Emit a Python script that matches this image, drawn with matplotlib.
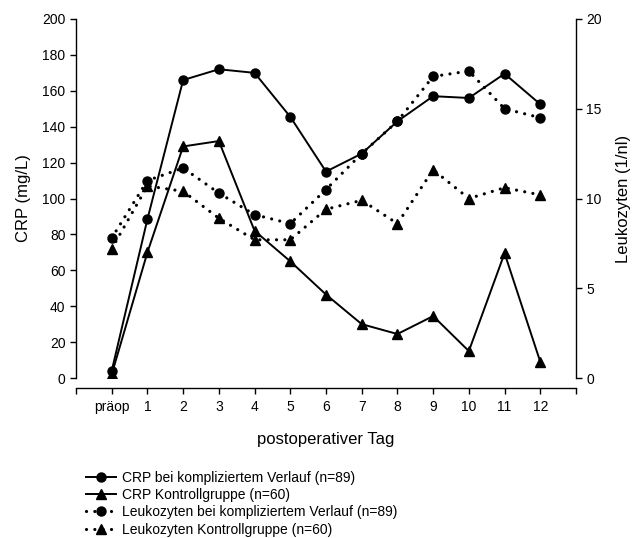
import matplotlib
matplotlib.use("Agg")
import matplotlib.pyplot as plt
from matplotlib.lines import Line2D

plt.rcParams['font.family'] = ['Liberation Sans', 'DejaVu Sans']

days = ["präop", "1", "2", "3", "4", "5", "6", "7", "8", "9", "10", "11", "12"]
crp_kompl = [4, 88.5, 166, 172, 170, 145.5, 115, 125, 143, 157, 156, 169.5, 152.5]
crp_kontrolle = [2, 70, 129, 132, 82, 65, 46.5, 30, 24.5, 34.5, 15, 69.5, 9]
leuko_kompl = [7.8, 11.0, 11.7, 10.3, 9.1, 8.6, 10.5, 12.5, 14.3, 16.8, 17.1, 15.0, 14.5]
leuko_kontrolle = [7.2, 10.7, 10.4, 8.9, 7.7, 7.7, 9.4, 9.9, 8.6, 11.6, 10.0, 10.6, 10.2]

labels = ["CRP bei kompliziertem Verlauf (n=89)",
          "CRP Kontrollgruppe (n=60)",
          "Leukozyten bei kompliziertem Verlauf (n=89)",
          "Leukozyten Kontrollgruppe (n=60)"]

fig = plt.figure(figsize=(6.37, 5.38), dpi=100)
ax = fig.add_axes([76/637, 1-378/538, 500/637, 359/538])
ax2 = ax.twinx()

x = list(range(len(days)))
lw = 1.4
ms = 6.5
dotted = (0, (0.01, 2.6))

l1, = ax.plot(x, crp_kompl, color='black', lw=lw, marker='o', ms=ms, zorder=3)
l2, = ax.plot(x, crp_kontrolle, color='black', lw=lw, marker='^', ms=ms, zorder=3)
l3, = ax2.plot(x, leuko_kompl, color='black', lw=2.3, ls=dotted, marker='o', ms=ms,
               dash_capstyle='round', zorder=3)
l4, = ax2.plot(x, leuko_kontrolle, color='black', lw=2.3, ls=dotted, marker='^', ms=ms,
               dash_capstyle='round', zorder=3)

ax.set_xlim(-1, 13)
ax.set_ylim(0, 200)
ax2.set_ylim(0, 20)
ax.set_yticks(range(0, 201, 20))
ax2.set_yticks(range(0, 21, 5))

ax.set_xticks(range(-1, 14))
ax.set_xticklabels([""] + days + [""])

for a in (ax, ax2):
    a.spines['top'].set_visible(False)
    a.tick_params(direction='out', length=4, width=1, labelsize=10, colors='black')
ax.spines['right'].set_visible(False)
ax2.spines['left'].set_visible(False)
ax2.spines['bottom'].set_visible(False)
ax.spines['bottom'].set_position(('outward', 7))
for s in ('left', 'bottom'):
    ax.spines[s].set_linewidth(1)
ax2.spines['right'].set_linewidth(1)
ax.tick_params(axis='x', pad=5)

ax.set_ylabel("CRP (mg/L)", fontsize=12, labelpad=8)
ax2.set_ylabel("Leukozyten (1/nl)", fontsize=12, labelpad=10)
ax.set_xlabel("postoperativer Tag", fontsize=12, labelpad=13)

fig.legend([l1, l2, l3, l4], labels, loc='upper left',
           bbox_to_anchor=(80/637, 1-465/538), frameon=False, fontsize=10,
           handlelength=2.2, handletextpad=0.4, labelspacing=0.24, borderaxespad=0)

fig.savefig("out.png", dpi=100)
